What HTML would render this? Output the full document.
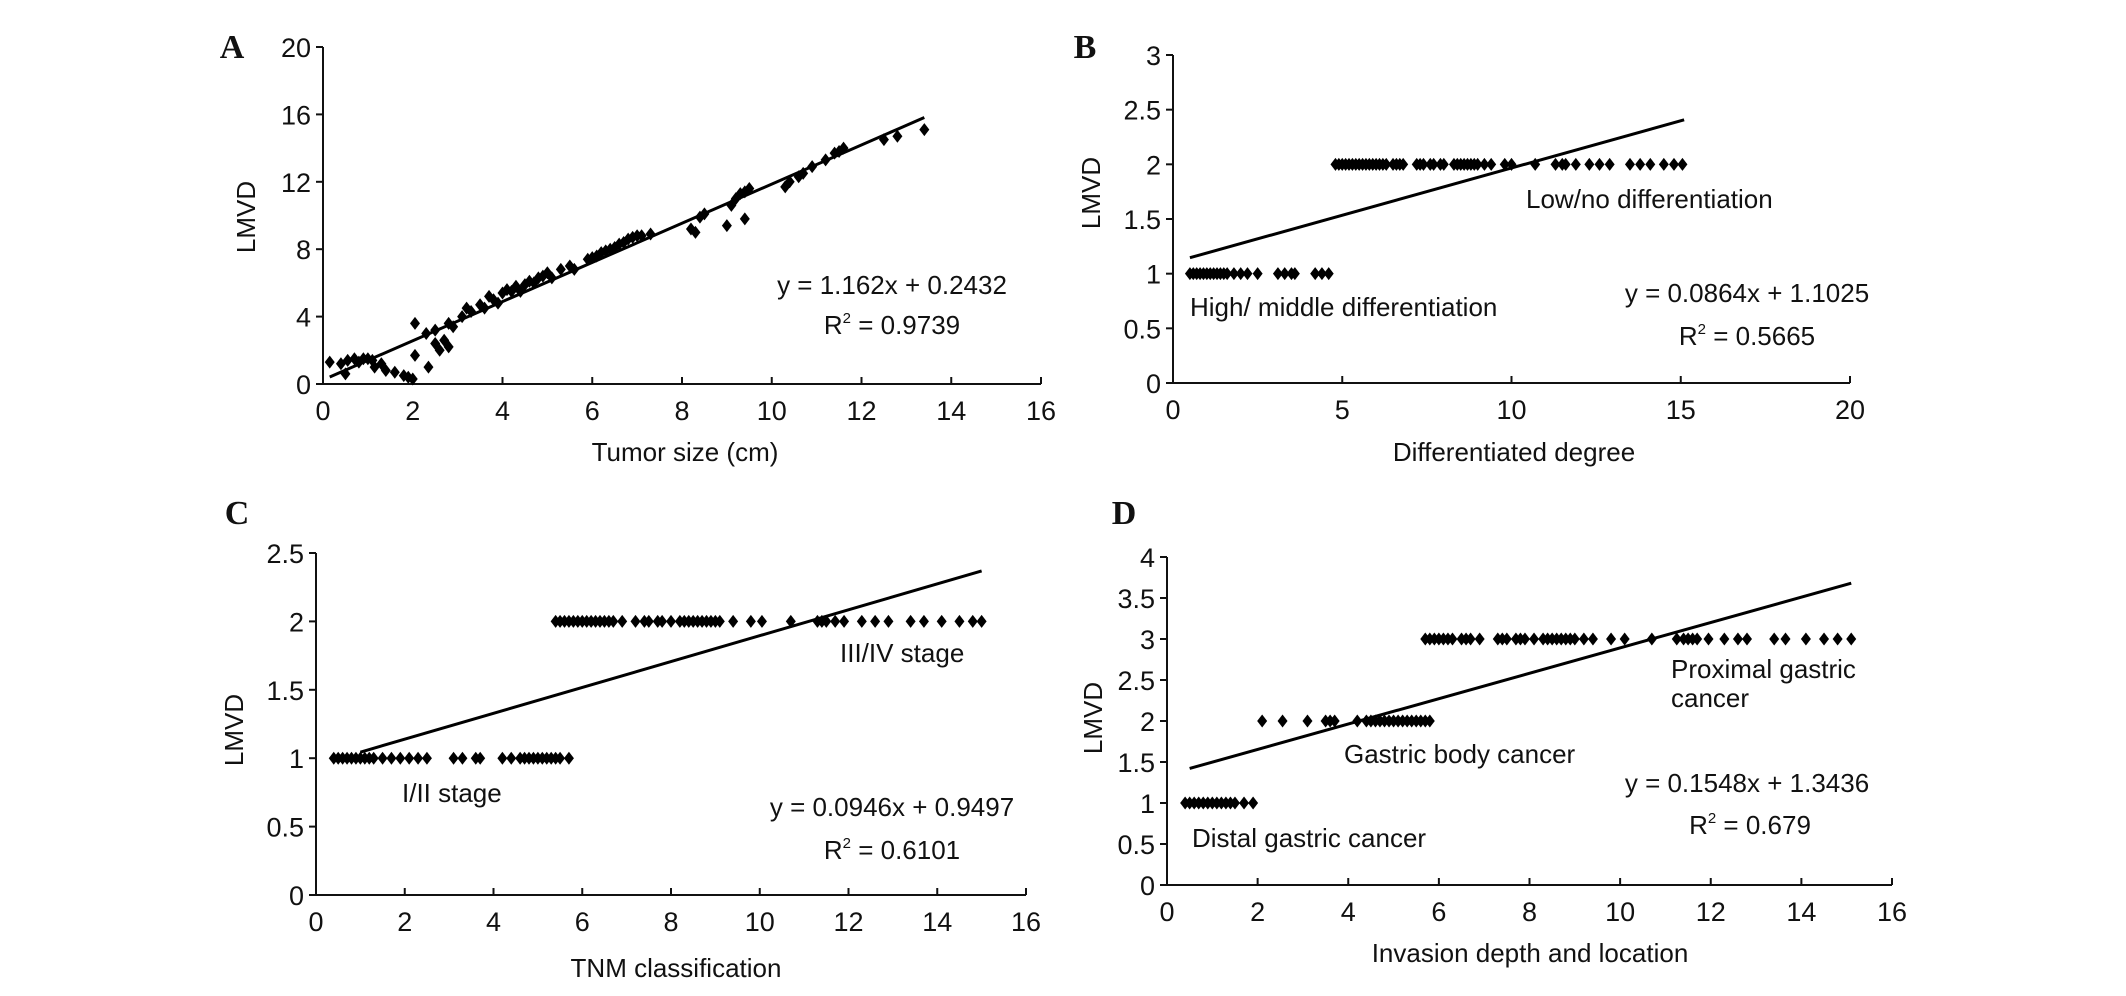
<!DOCTYPE html>
<html><head><meta charset="utf-8"><style>
html,body{margin:0;padding:0;background:#fff;}
svg text{font-family:"Liberation Sans",sans-serif;fill:#111;}
.tk{font-size:27px;}
.lbl{font-size:26px;}
.pl{font-family:"Liberation Serif",serif!important;font-weight:bold;font-size:34px;}
</style></head><body>
<svg id="fig" width="2126" height="991" viewBox="0 0 2126 991" xmlns="http://www.w3.org/2000/svg"></svg>
<script>
// Panel A data
const aX = [0.15,0.4,0.5,0.55,0.7,0.8,0.9,1.0,1.1,1.15,1.3,1.4,1.6,1.8,1.9,2.0,2.05,2.05,2.3,2.35,2.5,2.5,2.6,2.7,2.8,2.8,2.9,3.1,3.2,3.3,3.5,3.6,3.7,3.8,3.9,4.0,4.1,4.2,4.3,4.4,4.5,4.6,4.7,4.8,4.9,5.0,5.1,5.3,5.5,5.6,5.9,6.0,6.1,6.2,6.3,6.4,6.5,6.6,6.7,6.8,6.9,7.0,7.1,7.3,8.2,8.3,8.4,8.5,9.0,9.1,9.2,9.3,9.4,9.4,9.5,10.3,10.4,10.6,10.7,10.9,11.2,11.4,11.5,11.6,12.5,12.8,13.4];
const aY = [1.3,1.2,0.6,1.4,1.5,1.3,1.5,1.5,1.4,1.0,1.2,0.8,0.7,0.5,0.4,0.3,3.6,1.7,3.0,1.0,3.2,2.4,2.0,2.6,2.2,3.6,3.4,4.0,4.5,4.3,4.7,4.5,5.2,5.0,4.8,5.4,5.6,5.5,5.8,5.5,5.9,6.1,6.0,6.3,6.4,6.6,6.3,6.8,7.0,6.8,7.4,7.5,7.6,7.8,7.9,8.0,8.1,8.3,8.4,8.6,8.7,8.8,8.8,8.9,9.2,9.0,9.9,10.1,9.4,10.6,11.0,11.3,9.8,11.4,11.6,11.7,12.0,12.3,12.5,12.9,13.3,13.7,13.8,14.0,14.5,14.7,15.1];
const aTicksX = [0,2,4,6,8,10,12,14,16];
const aTicksY = [0,4,8,12,16,20];
const aFit = [1.162,0.2432,0.15,13.4];
// Panel B data
const bX1 = [0.5,0.6,0.7,0.8,0.9,1.0,1.1,1.2,1.3,1.4,1.5,1.6,1.8,2.0,2.2,2.5,3.1,3.3,3.5,3.6,4.2,4.4,4.6];
const bY1 = 1;
const bX2 = [4.8,4.9,5.0,5.1,5.2,5.3,5.4,5.5,5.6,5.7,5.8,5.9,6.0,6.1,6.2,6.3,6.5,6.6,6.7,6.8,7.2,7.3,7.4,7.6,7.7,7.9,8.0,8.3,8.4,8.5,8.6,8.7,8.8,8.9,9.0,9.2,9.4,9.8,10.0,10.7,11.3,11.5,11.6,11.9,12.3,12.6,12.9,13.5,13.8,14.1,14.5,14.8,15.05];
const bY2 = 2;
const bTicksX = [0,5,10,15,20];
const bTicksY = [0,0.5,1,1.5,2,2.5,3];
const bFit = [0.0864,1.1025,0.5,15.1];
// Panel C data
const cX1 = [0.4,0.5,0.6,0.7,0.8,0.9,1.0,1.1,1.2,1.3,1.5,1.7,1.9,2.1,2.3,2.5,3.1,3.3,3.6,3.7,4.2,4.4,4.6,4.7,4.8,4.9,5.0,5.1,5.2,5.3,5.4,5.5,5.7];
const cY1 = 1;
const cX2 = [5.4,5.5,5.6,5.7,5.8,5.9,6.0,6.1,6.2,6.3,6.4,6.5,6.6,6.7,6.9,7.2,7.4,7.5,7.7,7.8,8.0,8.2,8.3,8.4,8.5,8.6,8.7,8.8,8.9,9.0,9.1,9.4,9.8,10.05,10.7,11.3,11.4,11.5,11.7,11.9,12.3,12.6,12.9,13.4,13.7,14.1,14.5,14.8,15.0];
const cY2 = 2;
const cTicksX = [0,2,4,6,8,10,12,14,16];
const cTicksY = [0,0.5,1,1.5,2,2.5];
const cFit = [0.0946,0.9497,1.0,15.0];
// Panel D data
const dX1 = [0.4,0.5,0.6,0.7,0.8,0.9,1.0,1.1,1.2,1.3,1.4,1.5,1.7,1.9];
const dY1 = 1;
const dX2 = [2.1,2.55,3.1,3.5,3.6,3.7,4.2,4.4,4.5,4.6,4.7,4.8,4.9,5.0,5.1,5.2,5.3,5.4,5.5,5.6,5.7,5.8];
const dY2 = 2;
const dX3 = [5.7,5.8,5.9,6.0,6.1,6.2,6.3,6.5,6.6,6.7,6.9,7.3,7.4,7.5,7.7,7.8,7.9,8.1,8.3,8.4,8.5,8.6,8.7,8.8,8.9,9.0,9.2,9.4,9.8,10.1,10.7,11.25,11.4,11.5,11.6,11.7,11.95,12.3,12.6,12.8,13.4,13.65,14.1,14.5,14.8,15.1];
const dY3 = 3;
const dTicksX = [0,2,4,6,8,10,12,14,16];
const dTicksY = [0,0.5,1,1.5,2,2.5,3,3.5,4];
const dFit = [0.1548,1.3436,0.5,15.1];

const NS = "http://www.w3.org/2000/svg";
const svg = document.getElementById('fig');
function el(tag, attrs, parent, txt){
  const e = document.createElementNS(NS, tag);
  for (const k in attrs) e.setAttribute(k, attrs[k]);
  if (txt !== undefined) e.textContent = txt;
  (parent || svg).appendChild(e);
  return e;
}
function panel(id, box, xMax, yMax, ticksX, ticksY, groups, fit){
  const g = el('g', {}, svg);
  
  
  const sx = v => box.x0 + (v / xMax) * (box.x1 - box.x0);
  const sy = v => box.y0 - (v / yMax) * (box.y0 - box.y1);
  const ax = el('path', {d:`M${box.x0},${box.y1} V${box.y0} H${box.x1}`, stroke:'#111', 'stroke-width':2, fill:'none'}, g);
  
  
  ticksY.forEach(t => {
    el('line', {x1:box.x0-7, x2:box.x0, y1:sy(t), y2:sy(t), stroke:'#111','stroke-width':2}, g);
    const tl = el('text', {x:box.x0-12, y:sy(t)+10, 'text-anchor':'end', class:'tk'}, g, String(t));
    
    
  });
  ticksX.forEach(t => {
    el('line', {x1:sx(t), x2:sx(t), y1:box.y0, y2:box.y0-7, stroke:'#111','stroke-width':2}, g);
    const tl = el('text', {x:sx(t), y:box.y0+36, 'text-anchor':'middle', class:'tk'}, g, String(t));
    
    
  });
  groups.forEach(gr => {
    gr.xs.forEach((x, i) => {
      const y = Array.isArray(gr.ys) ? gr.ys[i] : gr.ys;
      const cx = sx(x), cy = sy(y);
      const p = el('path', {d:`M${cx},${cy-6.5} L${cx+5},${cy} L${cx},${cy+6.5} L${cx-5},${cy} Z`, fill:'#000'}, g);
      
      
    });
  });
  const [m, b, xa, xb] = fit;
  const ln = el('line', {x1:sx(xa), y1:sy(m*xa+b), x2:sx(xb), y2:sy(m*xb+b), stroke:'#000','stroke-width':3}, g);
  
  
  return g;
}
function txt(name, x, y, s, cls, anchor, extra){
  const t = el('text', Object.assign({x:x, y:y, class:cls, 'text-anchor':anchor||'start'}, extra||{}), svg, s);
  
  
  return t;
}
function rsq(name, cx, y, val){
  const t = el('text', {x:cx, y:y, class:'lbl', 'text-anchor':'middle'}, svg);
  
  
  t.appendChild(document.createTextNode('R'));
  el('tspan', {'font-size':'15', dy:'-11'}, t, '2');
  el('tspan', {dy:'11'}, t, ' = ' + val);
}

// Panel A
panel('a', {x0:323,x1:1041,y0:384,y1:47}, 16, 20, aTicksX, aTicksY, [{xs:aX, ys:aY}], aFit);
txt('panel-label-a', 232, 58, 'A', 'pl', 'middle');
txt('y-axis-title-a', 0, 0, 'LMVD', 'lbl', 'middle', {transform:'translate(255,217) rotate(-90)'});
txt('x-axis-title-a', 685, 461, 'Tumor size (cm)', 'lbl', 'middle');
txt('equation-a', 892, 294, 'y = 1.162x + 0.2432', 'lbl', 'middle');
rsq('r-squared-a', 892, 334, '0.9739');

// Panel B
panel('b', {x0:1173,x1:1850,y0:383,y1:55}, 20, 3, bTicksX, bTicksY, [{xs:bX1, ys:bY1},{xs:bX2, ys:bY2}], bFit);
txt('panel-label-b', 1085, 58, 'B', 'pl', 'middle');
txt('y-axis-title-b', 0, 0, 'LMVD', 'lbl', 'middle', {transform:'translate(1100,193) rotate(-90)'});
txt('x-axis-title-b', 1514, 461, 'Differentiated degree', 'lbl', 'middle');
txt('label-low-differentiation', 1526, 208, 'Low/no differentiation', 'lbl');
txt('label-high-differentiation', 1190, 316, 'High/ middle differentiation', 'lbl');
txt('equation-b', 1747, 302, 'y = 0.0864x + 1.1025', 'lbl', 'middle');
rsq('r-squared-b', 1747, 345, '0.5665');

// Panel C
panel('c', {x0:316,x1:1026,y0:895,y1:553}, 16, 2.5, cTicksX, cTicksY, [{xs:cX1, ys:cY1},{xs:cX2, ys:cY2}], cFit);
txt('panel-label-c', 237, 524, 'C', 'pl', 'middle');
txt('y-axis-title-c', 0, 0, 'LMVD', 'lbl', 'middle', {transform:'translate(243,730) rotate(-90)'});
txt('x-axis-title-c', 676, 977, 'TNM classification', 'lbl', 'middle');
txt('label-i-ii-stage', 402, 802, 'I/II stage', 'lbl');
txt('label-iii-iv-stage', 840, 662, 'III/IV stage', 'lbl');
txt('equation-c', 892, 816, 'y = 0.0946x + 0.9497', 'lbl', 'middle');
rsq('r-squared-c', 892, 859, '0.6101');

// Panel D
panel('d', {x0:1167,x1:1892,y0:885,y1:557}, 16, 4, dTicksX, dTicksY, [{xs:dX1, ys:dY1},{xs:dX2, ys:dY2},{xs:dX3, ys:dY3}], dFit);
txt('panel-label-d', 1124, 524, 'D', 'pl', 'middle');
txt('y-axis-title-d', 0, 0, 'LMVD', 'lbl', 'middle', {transform:'translate(1102,718) rotate(-90)'});
txt('x-axis-title-d', 1530, 962, 'Invasion depth and location', 'lbl', 'middle');
txt('label-proximal-gastric', 1671, 678, 'Proximal gastric', 'lbl');
txt('label-proximal-cancer', 1671, 707, 'cancer', 'lbl');
txt('label-gastric-body', 1344, 763, 'Gastric body cancer', 'lbl');
txt('label-distal-gastric', 1192, 847, 'Distal gastric cancer', 'lbl');
txt('equation-d', 1747, 792, 'y = 0.1548x + 1.3436', 'lbl', 'middle');
rsq('r-squared-d', 1750, 834, '0.679');
</script>
</body></html>
